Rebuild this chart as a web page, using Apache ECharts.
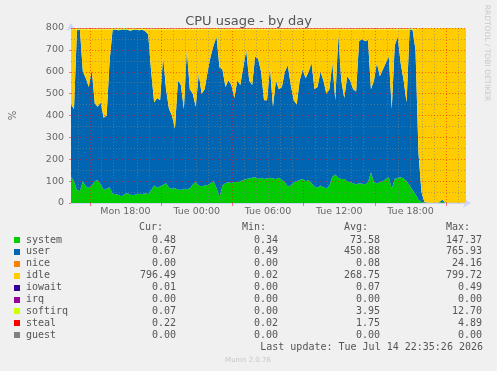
<!DOCTYPE html>
<html>
<head>
<meta charset="utf-8">
<title>CPU usage - by day</title>
<script src="https://cdn.jsdelivr.net/npm/echarts@6/dist/echarts.min.js"></script>
<style>
html, body { margin: 0; padding: 0; background: #f0f0f0; }
#chart { width: 497px; height: 371px; }
</style>
</head>
<body>
<div id="chart"></div>
<script>
// time: hours since Mon 00:00, one sample every 15 minutes
var startHour = 13 + 25 / 60;
var stepHours = 0.25;

// stacked values, in %
var systemVals = [
  120,100,60,55,100,75,70,80,100,105,
  85,60,65,72,42,40,38,30,40,45,
  38,35,40,42,40,45,40,60,80,70,
  75,82,90,70,65,68,62,60,65,62,
  68,85,96,80,75,80,82,90,100,70,
  25,80,90,95,92,96,95,100,105,110,
  112,115,118,110,115,110,112,115,112,110,
  115,105,95,75,80,95,100,105,110,100,
  105,90,75,70,80,72,68,80,120,130,
  115,110,110,100,95,90,85,90,88,85,
  95,140,95,90,95,100,110,118,65,110,
  115,118,112,100,80,60,40,15,5,2,
  1,0.5,0.5,0.5,1,6,1,0.5,0.5,0.5,
  0.5,0.5,0.5,0.48
];
var userVals = [
  330,330,730,737,500,495,460,530,355,335,
  375,330,335,578,750,752,752,762,753,747,
  750,757,752,748,752,740,730,540,380,410,
  395,588,430,360,335,272,498,480,365,638,
  452,415,344,510,425,440,518,580,620,690,
  595,530,440,465,448,384,465,440,515,590,
  448,425,552,550,485,360,358,505,328,450,
  405,425,505,555,460,375,350,455,500,470,
  495,550,445,460,520,488,432,440,520,340,
  655,450,370,480,465,430,425,650,662,655,
  650,380,465,550,485,510,530,552,365,610,
  645,522,448,360,712,732,660,215,45,3,
  1,0.7,0.7,0.7,2,9,1,0.7,0.7,0.7,
  0.7,0.7,0.7,0.67
];
var idleVals = [
  343,363,3,1,193,223,263,183,338,353,
  333,403,393,143,1,1,3,1,0.5,1,
  5,1,1,3,1,8,23,193,333,313,
  323,123,273,363,393,453,233,253,363,93,
  273,293,353,203,293,273,193,123,73,33,
  173,183,263,233,253,313,233,253,173,93,
  233,253,123,133,193,323,323,173,353,233,
  273,263,193,163,253,323,343,233,183,223,
  193,153,273,263,193,233,293,273,153,323,
  23,233,313,213,233,273,283,53,43,53,
  48,273,233,153,213,183,153,123,363,73,
  33,153,233,333,1,1,93,569,749,794.6,
  797.6,798.4,798.4,798.4,796.6,784.6,797.6,798.4,798.4,798.4,
  798.4,798.4,798.4,796.49
];
var softirqVals = [
  5,4,6,5,4,5,4,5,4,4,
  5,4,4,5,6,5,6,5,6,5,
  5,6,5,5,6,5,5,4,4,5,
  4,5,4,4,4,3,4,4,4,5,
  4,4,4,5,4,4,5,5,5,6,
  4,5,4,4,4,4,4,4,5,5,
  4,4,5,5,4,4,4,5,4,4,
  4,4,5,5,4,4,4,4,5,4,
  5,5,4,4,5,4,4,4,5,4,
  6,4,4,4,4,4,4,5,5,5,
  5,4,4,5,4,4,5,5,4,5,
  6,5,4,4,6,6,5,1,0.3,0.1,
  0.1,0.1,0.1,0.1,0.1,0.1,0.1,0.1,0.1,0.1,
  0.1,0.1,0.1,0.07
];
var stealVals = [
  2,2,3,2,2,2,1.5,2,2,2,
  2,2,2,2,3,2,2.5,2,2,2,
  2,2,2,2,2,3,2,2,2,1.5,
  2,2,2,1.5,2,2,2,2,2,2,
  2,2,2,2,1.5,2,2,2,2,2.5,
  2,2,2,1.5,2,2,2,2,2,2,
  2,2,2,2,2,1.5,2,2,2,2,
  2,2,2,2,2,2,2,1.5,2,2,
  2,2,2,2,2,2,2,2,2,2,
  2.5,2,2,2,2,2,2,2,2,2,
  2,2,2,2,2,1.5,2,2,2,2,
  2,2,2,2,2,2,2,0.8,0.3,0.3,
  0.3,0.3,0.3,0.3,0.3,0.3,0.3,0.3,0.3,0.3,
  0.3,0.3,0.3,0.22
];

// axes
var xLabelHours = [18, 24, 30, 36, 42];
var xLabelText = ['Mon 18:00', 'Tue 00:00', 'Tue 06:00', 'Tue 12:00', 'Tue 18:00'];
var majorHours = [15, 21, 27, 33, 39, 45];
var minorHours = [14, 16, 17, 18, 19, 20, 22, 23, 24, 25, 26, 28, 29, 30, 31, 32,
  34, 35, 36, 37, 38, 40, 41, 42, 43, 44, 46];
var yMajor = [100, 200, 300, 400, 500, 600, 700, 800];
var yMinor = [50, 150, 250, 350, 450, 550, 650, 750];

// legend table
var legendNames = ['system', 'user', 'nice', 'idle', 'iowait', 'irq', 'softirq', 'steal', 'guest'];
var legendColors = ['#00CC00', '#0066B3', '#FF8000', '#FFCC00', '#330099', '#990099', '#CCFF00', '#FF0000', '#808080'];
var curVals = ['0.48', '0.67', '0.00', '796.49', '0.01', '0.00', '0.07', '0.22', '0.00'];
var minVals = ['0.34', '0.49', '0.00', '0.02', '0.00', '0.00', '0.00', '0.02', '0.00'];
var avgVals = ['73.58', '450.88', '0.08', '268.75', '0.07', '0.00', '3.95', '1.75', '0.00'];
var maxVals = ['147.37', '765.93', '24.16', '799.72', '0.49', '0.00', '12.70', '4.89', '0.00'];

var fontColor = '#666';
var minorColor = 'rgba(130,130,130,0.55)';
var majorColor = 'rgba(255,0,0,0.5)';

// sample times as categories (hidden axis used for stacking)
var sampleHours = systemVals.map(function (v, i) { return (startHour + i * stepHours).toFixed(4); });
var endHour = startHour + (systemVals.length - 1) * stepHours;

function areaSeries(name, color, vals) {
  return {
    name: name,
    type: 'line',
    stack: 'cpu',
    xAxisIndex: 0,
    data: vals,
    symbol: 'none',
    showSymbol: false,
    silent: true,
    lineStyle: { width: 0 },
    itemStyle: { color: color },
    areaStyle: { color: color, opacity: 1 }
  };
}

var gridLines = [];
minorHours.forEach(function (h) { gridLines.push({ xAxis: h, lineStyle: { color: minorColor } }); });
majorHours.forEach(function (h) { gridLines.push({ xAxis: h, lineStyle: { color: majorColor } }); });
yMinor.forEach(function (v) { gridLines.push({ yAxis: v, lineStyle: { color: minorColor } }); });
yMajor.forEach(function (v) { gridLines.push({ yAxis: v, lineStyle: { color: majorColor } }); });

var mono = 'DejaVu Sans Mono';
var tableGraphics = [];
var headerY = 227;
[['Cur:', 163], ['Min:', 266], ['Avg:', 368], ['Max:', 470]].forEach(function (h) {
  tableGraphics.push({
    type: 'text', x: h[1], y: headerY,
    style: { text: h[0], fill: '#555', font: '10px ' + mono, align: 'right', verticalAlign: 'middle' }
  });
});
legendNames.forEach(function (name, i) {
  var y = 240 + i * 11.9;
  tableGraphics.push({
    type: 'rect', shape: { x: 14, y: Math.round(y) - 3, width: 6, height: 6 },
    style: { fill: legendColors[i] }
  });
  tableGraphics.push({
    type: 'text', x: 26, y: y,
    style: { text: name, fill: '#555', font: '10px ' + mono, verticalAlign: 'middle' }
  });
  [[curVals, 176], [minVals, 278], [avgVals, 380], [maxVals, 482]].forEach(function (c) {
    tableGraphics.push({
      type: 'text', x: c[1], y: y,
      style: { text: c[0][i], fill: '#555', font: '10px ' + mono, align: 'right', verticalAlign: 'middle' }
    });
  });
});
tableGraphics.push({
  type: 'text', x: 483, y: 347,
  style: { text: 'Last update: Tue Jul 14 22:35:26 2026', fill: '#555', font: '10px ' + mono, align: 'right', verticalAlign: 'middle' }
});
tableGraphics.push({
  type: 'text', x: 248, y: 360,
  style: { text: 'Munin 2.0.76', fill: '#c8c8c8', font: '7px DejaVu Sans', align: 'center', verticalAlign: 'middle' }
});
tableGraphics.push({
  type: 'text', x: 487, y: 53, rotation: -Math.PI / 2,
  style: { text: 'RRDTOOL / TOBI OETIKER', fill: '#c8c8c8', font: '7.5px DejaVu Sans', align: 'center', verticalAlign: 'middle' }
});

var chart = echarts.init(document.getElementById('chart'));
chart.setOption({
  backgroundColor: '#f0f0f0',
  animation: false,
  title: {
    text: 'CPU usage - by day',
    left: 'center',
    top: 10,
    textStyle: { fontFamily: 'DejaVu Sans', fontSize: 13, fontWeight: 'normal', color: '#555' }
  },
  grid: { left: 67, top: 28, width: 399, height: 175, backgroundColor: '#fff', show: true, borderWidth: 0 },
  xAxis: [
    {
      type: 'category',
      data: sampleHours,
      boundaryGap: false,
      show: false
    },
    {
      type: 'value',
      position: 'bottom',
      min: startHour,
      max: endHour,
      axisLine: { show: true, lineStyle: { color: '#CFD6F8' }, symbol: ['none', 'arrow'], symbolSize: [7, 8], symbolOffset: [0, 5] },
      axisTick: { show: true, customValues: majorHours, length: 3, lineStyle: { color: majorColor } },
      axisLabel: {
        customValues: xLabelHours,
        margin: 4,
        color: fontColor,
        fontFamily: 'DejaVu Sans',
        fontSize: 9.5,
        formatter: function (v) {
          var k = xLabelHours.indexOf(Math.round(v));
          return k >= 0 ? xLabelText[k] : '';
        }
      },
      splitLine: { show: false }
    }
  ],
  yAxis: {
    type: 'value',
    min: 0,
    max: 800,
    interval: 100,
    name: '%',
    nameLocation: 'middle',
    nameRotate: 90,
    nameGap: 53,
    nameTextStyle: { color: fontColor, fontFamily: 'DejaVu Sans', fontSize: 10 },
    axisLine: { show: true, lineStyle: { color: '#CFD6F8' }, symbol: ['none', 'arrow'], symbolSize: [7, 8], symbolOffset: [0, 5] },
    axisTick: { show: true, length: 2, lineStyle: { color: majorColor } },
    axisLabel: { margin: 7, color: fontColor, fontFamily: 'DejaVu Sans', fontSize: 9.5 },
    splitLine: { show: false }
  },
  series: [
    areaSeries('system', legendColors[0], systemVals),
    areaSeries('user', legendColors[1], userVals),
    areaSeries('idle', legendColors[3], idleVals),
    areaSeries('softirq', legendColors[6], softirqVals),
    areaSeries('steal', legendColors[7], stealVals),
    {
      name: 'grid',
      type: 'line',
      xAxisIndex: 1,
      data: [],
      z: 4,
      silent: true,
      markLine: {
        silent: true,
        symbol: ['none', 'none'],
        label: { show: false },
        lineStyle: { type: [1, 2], width: 1 },
        data: gridLines
      }
    }
  ],
  graphic: tableGraphics
});
</script>
</body>
</html>
